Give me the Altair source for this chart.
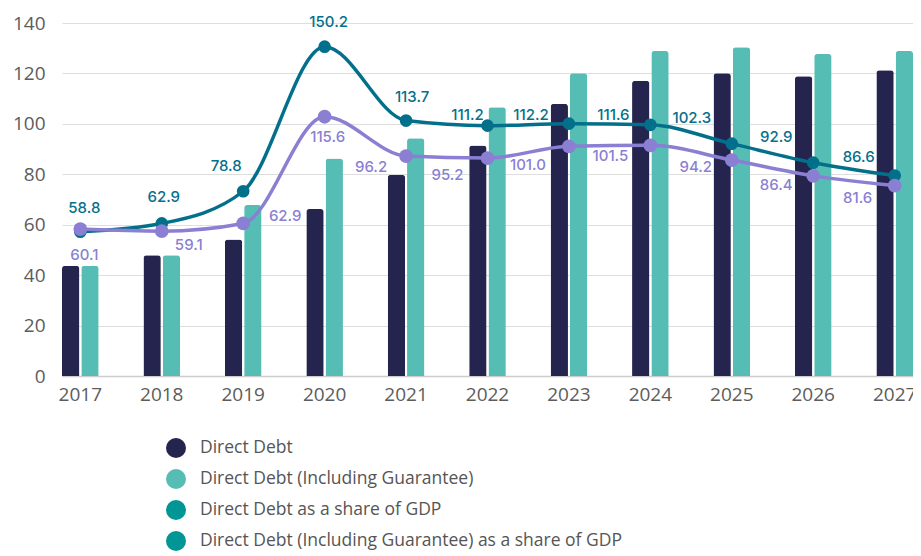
import altair as alt
import pandas as pd

years = ["2017", "2018", "2019", "2020", "2021", "2022", "2023", "2024", "2025", "2026", "2027"]
direct_debt = [43.7, 47.9, 54.1, 66.2, 79.8, 91.4, 107.9, 117.1, 120.1, 118.9, 121.3]
direct_debt_incl = [43.7, 47.9, 67.8, 86.3, 94.3, 106.6, 120.1, 128.9, 130.4, 127.7, 128.9]
share_gdp = [58.8, 62.9, 78.8, 150.2, 113.7, 111.2, 112.2, 111.6, 102.3, 92.9, 86.6]
share_gdp_incl = [60.1, 59.1, 62.9, 115.6, 96.2, 95.2, 101.0, 101.5, 94.2, 86.4, 81.6]

series_names = [
    "Direct Debt",
    "Direct Debt (Including Guarantee)",
    "Direct Debt as a share of GDP",
    "Direct Debt (Including Guarantee) as a share of GDP",
]
legend_colors = ["#24244f", "#56bdb4", "#009696", "#009696"]
upper_color = "#03708b"
lower_color = "#8a7fd3"

bars_df = pd.DataFrame(
    [{"year": y, "series": series_names[0], "value": v} for y, v in zip(years, direct_debt)]
    + [{"year": y, "series": series_names[1], "value": v} for y, v in zip(years, direct_debt_incl)]
)
upper_df = pd.DataFrame({"year": years, "value": share_gdp, "label": [f"{v:.1f}" for v in share_gdp]})
lower_df = pd.DataFrame({"year": years, "value": share_gdp_incl, "label": [f"{v:.1f}" for v in share_gdp_incl]})

x_enc = alt.X(
    "year:N",
    sort=years,
    scale=alt.Scale(paddingInner=0.55, paddingOuter=0.0),
    axis=alt.Axis(
        title=None, labelAngle=0, ticks=False, grid=False, domain=True,
        domainColor="#cccccc", domainWidth=1.5, labelPadding=9,
        labelFont="Open Sans", labelFontSize=19, labelColor="#5c5c5c",
    ),
)

bars = alt.Chart(bars_df).mark_bar(cornerRadiusTopLeft=3, cornerRadiusTopRight=3).encode(
    x=x_enc,
    xOffset=alt.XOffset("series:N", sort=series_names[:2], scale=alt.Scale(paddingInner=0.1)),
    y=alt.Y(
        "value:Q",
        scale=alt.Scale(domain=[0, 140], nice=False),
        axis=alt.Axis(
            title=None, values=[0, 20, 40, 60, 80, 100, 120, 140], ticks=False, domain=False,
            grid=True, gridColor="#dedede", gridWidth=1, labelPadding=17,
            labelFont="Open Sans", labelFontSize=19, labelColor="#5c5c5c",
        ),
    ),
    color=alt.Color(
        "series:N",
        scale=alt.Scale(domain=series_names, range=legend_colors),
        legend=alt.Legend(
            title=None, orient="none", legendX=104, legendY=415, direction="vertical",
            symbolType="circle", symbolSize=400, symbolStrokeWidth=0, symbolOpacity=1,
            labelFont="Open Sans", labelFontSize=17.5, labelColor="#555555",
            rowPadding=11, labelOffset=14, padding=0, labelLimit=700,
        ),
    ),
)

sec_scale = alt.Scale(domain=[-12.45, 161.9], nice=False, zero=False)

def line_layer(df, color, size):
    base = alt.Chart(df).encode(
        x=alt.X("year:N", sort=years),
        y=alt.Y("value:Q", scale=sec_scale, axis=None),
    )
    line = base.mark_line(interpolate="monotone", color=color, strokeWidth=3.5)
    pts = base.mark_point(filled=True, color=color, size=size, opacity=1)
    return line + pts

def label_layers(df, color, offsets):
    groups = {}
    for y, off in offsets.items():
        groups.setdefault(off, []).append(y)
    layers = []
    for (dx, dy), ys in groups.items():
        layers.append(
            alt.Chart(df).transform_filter(
                alt.FieldOneOfPredicate(field="year", oneOf=ys)
            ).mark_text(
                dx=dx, dy=dy, align="center", baseline="middle",
                font="Inter", fontSize=15, fontWeight=500, color=color,
            ).encode(
                x=alt.X("year:N", sort=years),
                y=alt.Y("value:Q", scale=sec_scale, axis=None),
                text="label:N",
            )
        )
    return alt.layer(*layers)

upper_offsets = {
    "2017": (4, -24), "2018": (2, -26), "2019": (-17, -25), "2020": (4, -25),
    "2021": (6, -24), "2022": (-20, -11), "2023": (-38, -9), "2024": (-37, -10),
    "2025": (-40, -26), "2026": (-37, -26), "2027": (-36, -18),
}
lower_offsets = {
    "2017": (4, 26), "2018": (27, 14), "2019": (42, -7), "2020": (3, 20),
    "2021": (-35, 11), "2022": (-40, 17), "2023": (-41, 19), "2024": (-40, 11),
    "2025": (-36, 7), "2026": (-37, 9), "2027": (-37, 12),
}

lines = alt.layer(
    line_layer(upper_df, upper_color, 160),
    line_layer(lower_df, lower_color, 190),
    label_layers(upper_df, upper_color, upper_offsets),
    label_layers(lower_df, lower_color, lower_offsets),
)

chart = alt.layer(bars, lines).resolve_scale(y="independent").properties(
    width=851,
    height=353,
    autosize=alt.AutoSizeParams(type="none"),
    padding={"left": 54, "top": 15, "right": 0, "bottom": 180},
).configure_view(stroke=None)

chart.save("out.html", embed_options={"renderer": "svg", "actions": False})
